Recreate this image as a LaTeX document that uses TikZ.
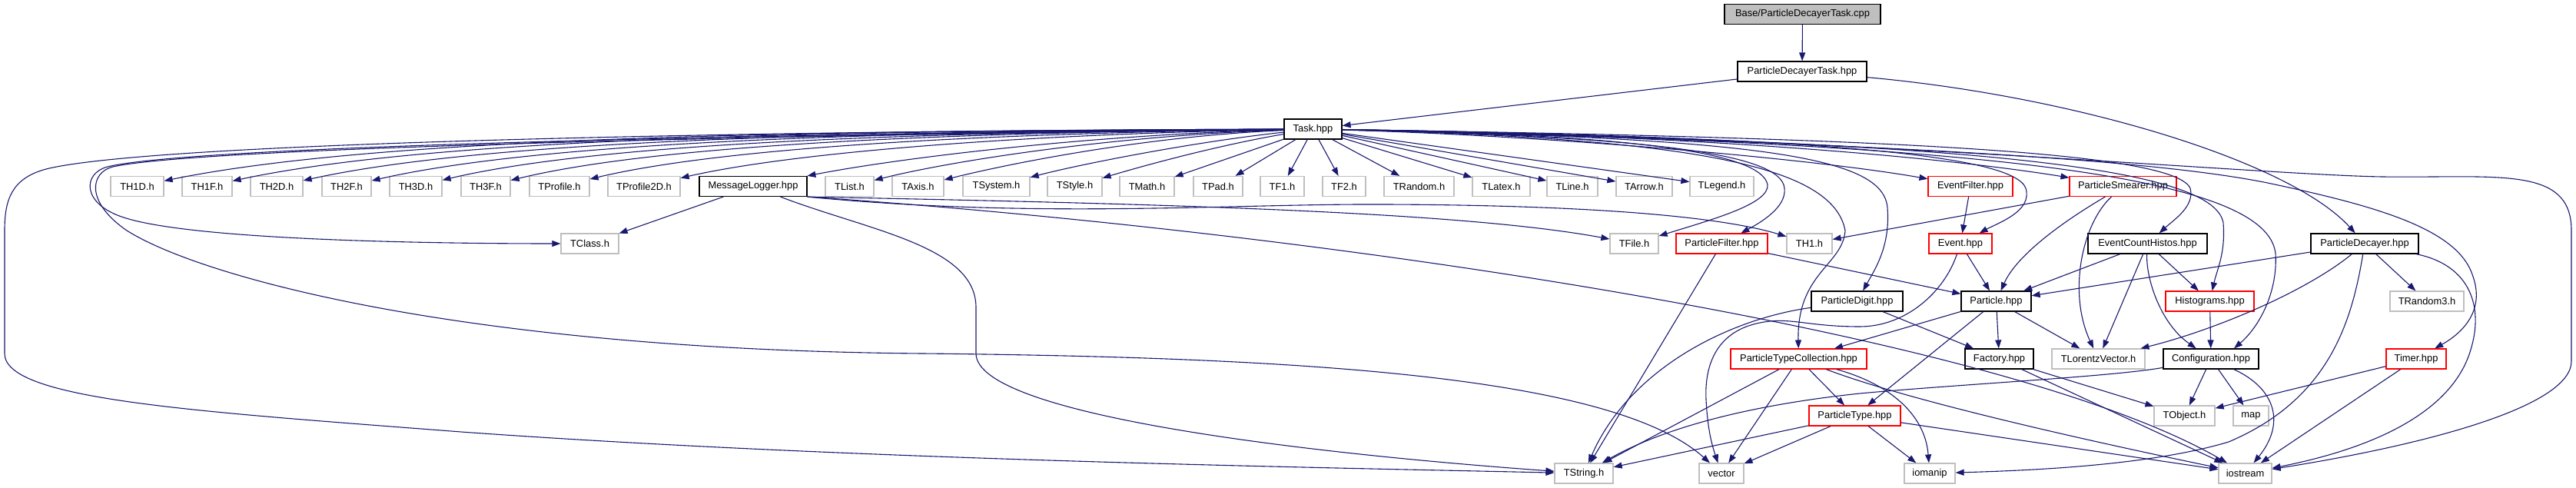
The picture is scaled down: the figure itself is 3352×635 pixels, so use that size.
\documentclass[tikz,border=0pt]{standalone}
\usepackage{fontspec}
\setmainfont{Liberation Sans}
\usetikzlibrary{arrows.meta}
\definecolor{edgec}{HTML}{191970}
\definecolor{gborder}{HTML}{BFBFBF}
\definecolor{rborder}{HTML}{FF0000}
\newcommand{\nodefont}{\fontsize{6.45pt}{7.5pt}\selectfont}
\begin{document}
\begin{tikzpicture}[x=0.5pt,y=-0.5pt,
  base/.style={rectangle, inner sep=0pt, minimum height=13pt, font=\nodefont, text=black},
  bw/.style={minimum width=#1*0.5pt},
  gnode/.style={base, draw=gborder, line width=0.6pt},
  bnode/.style={base, draw=black, line width=0.6pt},
  rnode/.style={base, draw=rborder, line width=0.55pt},
  rootnode/.style={base, draw=black, line width=0.6pt, fill=gborder},
  dep/.style={draw=edgec, line width=0.55pt, -{Triangle[length=5.5pt,width=4pt]}}]
\useasboundingbox (0,0) rectangle (3352,635);
% rows 0-2
\node[rootnode, bw=203] (cpp) at (2345.5,18.5) {Base/ParticleDecayerTask.cpp};
\node[bnode, bw=168] (pdt) at (2345,93) {ParticleDecayerTask.hpp};
\node[bnode, bw=75] (task) at (1708.5,168) {Task.hpp};
% row 3
\node[gnode, bw=69] (th1d) at (178.5,242.5) {TH1D.h};
\node[gnode, bw=65] (th1f) at (269.5,242.5) {TH1F.h};
\node[gnode, bw=68] (th2d) at (360,242.5) {TH2D.h};
\node[gnode, bw=64] (th2f) at (451,242.5) {TH2F.h};
\node[gnode, bw=68] (th3d) at (541,242.5) {TH3D.h};
\node[gnode, bw=64] (th3f) at (632,242.5) {TH3F.h};
\node[gnode, bw=78] (tprof) at (728,242.5) {TProfile.h};
\node[gnode, bw=94] (tprof2d) at (838,242.5) {TProfile2D.h};
\node[bnode, bw=140] (msglog) at (980,242.5) {MessageLogger.hpp};
\node[gnode, bw=63] (tlist) at (1105.5,242.5) {TList.h};
\node[gnode, bw=67] (taxis) at (1194.5,242.5) {TAxis.h};
\node[gnode, bw=87] (tsystem) at (1296.5,242.5) {TSystem.h};
\node[gnode, bw=71] (tstyle) at (1398.5,242.5) {TStyle.h};
\node[gnode, bw=71] (tmath) at (1492.5,242.5) {TMath.h};
\node[gnode, bw=64] (tpad) at (1585,242.5) {TPad.h};
\node[gnode, bw=57] (tf1) at (1668.5,242.5) {TF1.h};
\node[gnode, bw=56] (tf2) at (1749,242.5) {TF2.h};
\node[gnode, bw=91] (trandom) at (1846.5,242.5) {TRandom.h};
\node[gnode, bw=75] (tlatex) at (1953.5,242.5) {TLatex.h};
\node[gnode, bw=66] (tline) at (2046,242.5) {TLine.h};
\node[gnode, bw=73] (tarrow) at (2139.5,242.5) {TArrow.h};
\node[gnode, bw=83] (tlegend) at (2240.5,242.5) {TLegend.h};
\node[rnode, bw=110] (eventfilter) at (2564,242.5) {EventFilter.hpp};
\node[rnode, bw=139] (psmearer) at (2762.5,242.5) {ParticleSmearer.hpp};
% row 4
\node[gnode, bw=75] (tclass) at (767.5,317) {TClass.h};
\node[gnode, bw=63] (tfile) at (2126.5,317) {TFile.h};
\node[rnode, bw=119] (pfilter) at (2240.5,317) {ParticleFilter.hpp};
\node[gnode, bw=59] (th1) at (2354.5,317) {TH1.h};
\node[rnode, bw=82] (event) at (2551,317) {Event.hpp};
\node[bnode, bw=155] (ech) at (2794.5,317) {EventCountHistos.hpp};
\node[bnode, bw=140] (pdecayer) at (3077,317) {ParticleDecayer.hpp};
% row 5
\node[bnode, bw=119] (pdigit) at (2416.5,392) {ParticleDigit.hpp};
\node[bnode, bw=91] (particle) at (2597.5,392) {Particle.hpp};
\node[rnode, bw=115] (histograms) at (2875.5,392) {Histograms.hpp};
\node[gnode, bw=96] (trandom3) at (3158,392) {TRandom3.h};
% row 6
\node[rnode, bw=177] (ptc) at (2340.5,467) {ParticleTypeCollection.hpp};
\node[bnode, bw=89] (factory) at (2601.5,467) {Factory.hpp};
\node[gnode, bw=121] (tlv) at (2730.5,467) {TLorentzVector.h};
\node[bnode, bw=124] (config) at (2877,467) {Configuration.hpp};
\node[rnode, bw=78] (timer) at (3144,467) {Timer.hpp};
% row 7
\node[rnode, bw=119] (ptype) at (2413.5,541) {ParticleType.hpp};
\node[gnode, bw=79] (tobject) at (2842.5,541) {TObject.h};
\node[gnode, bw=46] (map) at (2929,541) {map};
% row 8
\node[gnode, bw=76] (tstring) at (2061,616) {TString.h};
\node[gnode, bw=58] (vector) at (2240,616) {vector};
\node[gnode, bw=66] (iomanip) at (2511,616) {iomanip};
\node[gnode, bw=69] (iostream) at (2921.5,616) {iostream};

% ---- edges ----
\draw[dep] (cpp) -- (pdt);
\draw[dep] (pdt) -- (task);
\draw[dep] (pdt) .. controls (2700,125) and (2980,210) .. (pdecayer);
% left fan
\draw[dep] (task) .. controls (1088,170) and (505,176) .. (th1d);
\draw[dep] (task) .. controls (1123,170) and (576,177) .. (th1f);
\draw[dep] (task) .. controls (1160,171) and (649,179) .. (th2d);
\draw[dep] (task) .. controls (1196,171) and (721,181) .. (th2f);
\draw[dep] (task) .. controls (1233,172) and (794,183) .. (th3d);
\draw[dep] (task) .. controls (1268,172) and (865,186) .. (th3f);
\draw[dep] (task) .. controls (1309,173) and (948,190) .. (tprof);
\draw[dep] (task) .. controls (1357,174) and (1042,196) .. (tprof2d);
\draw[dep] (task) .. controls (1423,175) and (1174,205) .. (msglog);
\draw[dep] (task) .. controls (1457,176) and (1244,208) .. (tlist);
\draw[dep] (task) .. controls (1494,177) and (1317,212) .. (taxis);
\draw[dep] (task) .. controls (1550,185) and (1400,215) .. (tsystem);
\draw[dep] (task) .. controls (1580,190) and (1480,218) .. (tstyle);
\draw[dep] (task) -- (tmath);
\draw[dep] (task) -- (tpad);
\draw[dep] (task) -- (tf1);
\draw[dep] (task) -- (tf2);
\draw[dep] (task) -- (trandom);
\draw[dep] (task) -- (tlatex);
\draw[dep] (task) -- (tline);
\draw[dep] (task) -- (tarrow);
\draw[dep] (task) -- (tlegend);
% far left loops
\draw[dep] (task) .. controls (1000,170) and (200,185) .. (60,220) .. controls (15,232) and (6,260) .. (6,300) -- (6,460) .. controls (6,520) and (250,535) .. (600,562) .. controls (1100,598) and (1700,608) .. (tstring);
\draw[dep] (task) .. controls (1000,174) and (250,190) .. (140,217) .. controls (108,225) and (105,265) .. (161,283) .. controls (250,312) and (550,317) .. (tclass);
\draw[dep] (task) .. controls (1000,176) and (260,192) .. (147,217) .. controls (118,224) and (110,262) .. (165,300) .. controls (260,360) and (600,455) .. (1200,460) .. controls (1700,465) and (2100,490) .. (vector);
% right side from Task
\draw[dep] (task) .. controls (2000,176) and (2350,205) .. (eventfilter);
\draw[dep] (task) .. controls (2150,174) and (2500,200) .. (psmearer);
\draw[dep] (task) .. controls (2100,175) and (2290,195) .. (2300,240) .. controls (2303,265) and (2230,285) .. (tfile);
\draw[dep] (task) .. controls (2150,178) and (2318,200) .. (2322,245) .. controls (2325,270) and (2290,290) .. (pfilter);
\draw[dep] (task) .. controls (2200,180) and (2385,215) .. (2401,300) .. controls (2398,345) and (2338,355) .. (ptc);
\draw[dep] (task) .. controls (2300,180) and (2450,205) .. (2456,270) .. controls (2460,320) and (2440,350) .. (pdigit);
\draw[dep] (task) .. controls (2350,178) and (2620,200) .. (2636,245) .. controls (2645,275) and (2600,290) .. (event);
\draw[dep] (task) .. controls (2500,180) and (2830,200) .. (2850,245) .. controls (2856,268) and (2830,285) .. (ech);
\draw[dep] (task) .. controls (2550,184) and (2880,215) .. (2893,290) .. controls (2896,330) and (2885,350) .. (histograms);
\draw[dep] (task) .. controls (2600,186) and (2950,230) .. (2961,330) .. controls (2964,380) and (2940,425) .. ([xshift=15pt]config.north);
\draw[dep] (task) .. controls (2400,185) and (2800,205) .. (2960,240) .. controls (3100,270) and (3200,300) .. (3218,360) .. controls (3232,400) and (3210,430) .. (timer);
\draw[dep] (task) .. controls (2400,178) and (2950,228) .. (3100,230) .. controls (3250,232) and (3346,215) .. (3346,300) -- (3346,470) .. controls (3346,530) and (3150,580) .. (iostream);
% MessageLogger
\draw[dep] (msglog) -- (tclass);
\draw[dep] (msglog.south east) .. controls (1500,265) and (1900,275) .. (tfile);
\draw[dep] (msglog.south east) .. controls (1350,285) and (1600,265) .. (1800,266) .. controls (2100,267) and (2250,285) .. (th1);
\draw[dep] (msglog.south east) .. controls (1700,300) and (2600,430) .. (iostream);
\draw[dep] (msglog) .. controls (1130,300) and (1270,320) .. (1270,400) -- (1270,460) .. controls (1270,540) and (1700,590) .. (tstring);
% ParticleSmearer
\draw[dep] (psmearer) -- (th1);
\draw[dep] (psmearer) .. controls (2690,285) and (2625,330) .. (particle);
\draw[dep] (psmearer) .. controls (2710,290) and (2690,380) .. (tlv);
% EventFilter, ParticleFilter, Event
\draw[dep] (eventfilter) -- (event);
\draw[dep] (pfilter) -- (tstring);
\draw[dep] (pfilter) -- (particle);
\draw[dep] (event) -- (particle);
\draw[dep] (event) .. controls (2530,380) and (2480,425) .. (2420,425) .. controls (2350,425) and (2330,412) .. (2290,420) .. controls (2230,432) and (2218,480) .. (2220,520) .. controls (2222,560) and (2228,580) .. (vector);
% EventCountHistos
\draw[dep] (ech) -- (particle);
\draw[dep] (ech) -- (tlv);
\draw[dep] (ech) -- (histograms);
\draw[dep] (ech) .. controls (2792,360) and (2810,420) .. (config);
% ParticleDecayer
\draw[dep] (pdecayer) -- (particle);
\draw[dep] (pdecayer) .. controls (3000,380) and (2880,430) .. (tlv);
\draw[dep] (pdecayer) -- (trandom3);
\draw[dep] (pdecayer) .. controls (3060,420) and (3030,520) .. (2900,575) .. controls (2800,605) and (2650,612) .. (iomanip);
\draw[dep] (pdecayer) .. controls (3215,345) and (3232,400) .. (3215,455) .. controls (3190,540) and (3080,585) .. (iostream);
% Histograms
\draw[dep] (histograms) -- (config);
% ParticleDigit
\draw[dep] (pdigit) .. controls (2250,415) and (2120,480) .. (tstring);
\draw[dep] (pdigit) -- (factory);
% Particle
\draw[dep] (particle) -- (ptc);
\draw[dep] (particle) -- (factory);
\draw[dep] (particle) -- (tlv);
\draw[dep] (particle) -- (ptype);
% ParticleTypeCollection
\draw[dep] (ptc) -- (tstring);
\draw[dep] (ptc) -- (vector);
\draw[dep] (ptc) -- (ptype);
\draw[dep] (ptc) .. controls (2460,500) and (2505,540) .. (iomanip);
\draw[dep] (ptc) .. controls (2480,520) and (2700,570) .. (iostream);
% ParticleType
\draw[dep] (ptype) -- (tstring);
\draw[dep] (ptype) -- (vector);
\draw[dep] (ptype) -- (iomanip);
\draw[dep] (ptype) -- (iostream);
% Factory
\draw[dep] (factory) -- (tobject);
\draw[dep] (factory) -- (iostream);
% Configuration
\draw[dep] (config) .. controls (2750,490) and (2550,500) .. (2420,512) .. controls (2250,530) and (2150,565) .. (tstring);
\draw[dep] (config) -- (tobject);
\draw[dep] (config) -- (map);
\draw[dep] (config) .. controls (2960,505) and (2975,550) .. (iostream);
% Timer
\draw[dep] (timer) -- (tobject);
\draw[dep] (timer) -- (iostream);
\end{tikzpicture}
\end{document}
